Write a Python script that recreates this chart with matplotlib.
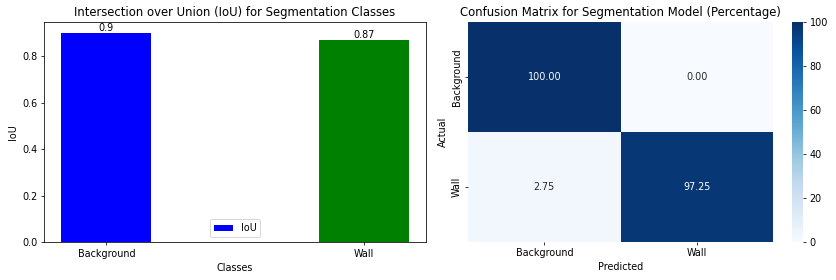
import matplotlib
matplotlib.use("Agg")
import matplotlib.pyplot as plt
import numpy as np
import seaborn as sns

classes = ["Background", "Wall"]
iou_values = [0.9, 0.87]
bar_colors = ["blue", "green"]
conf_pct = np.array([[100.00, 0.00],
                     [2.75, 97.25]])

W, H = 836, 280
DPI = 836 / 12.0
fig = plt.figure(figsize=(W / DPI, H / DPI), dpi=DPI)

def px_axes(x0, x1, y0, y1):
    return fig.add_axes([x0 / W, (H - y1) / H, (x1 - x0) / W, (y1 - y0) / H])

ax1 = px_axes(44, 426, 22.3, 242)
x = np.arange(len(classes))
bars = ax1.bar(x, iou_values, width=0.35, color=bar_colors, label="IoU")
for xi, v in zip(x, iou_values):
    ax1.text(xi, v, str(v), ha="center", va="bottom")
ax1.set_xticks(x)
ax1.set_xticklabels(classes)
ax1.set_xlabel("Classes")
ax1.set_ylabel("IoU")
ax1.set_title("Intersection over Union (IoU) for Segmentation Classes")
ax1.legend(loc="lower center")

ax2 = px_axes(468.3, 772.7, 22, 241.5)
cax = px_axes(792, 803, 22, 242)
sns.heatmap(conf_pct, annot=True, fmt=".2f", cmap="Blues", vmin=0, vmax=100,
            xticklabels=classes, yticklabels=classes, ax=ax2, cbar_ax=cax)
ax2.set_xlabel("Predicted")
ax2.set_ylabel("Actual")
ax2.set_title("Confusion Matrix for Segmentation Model (Percentage)")

fig.savefig("out.png", dpi=DPI)
